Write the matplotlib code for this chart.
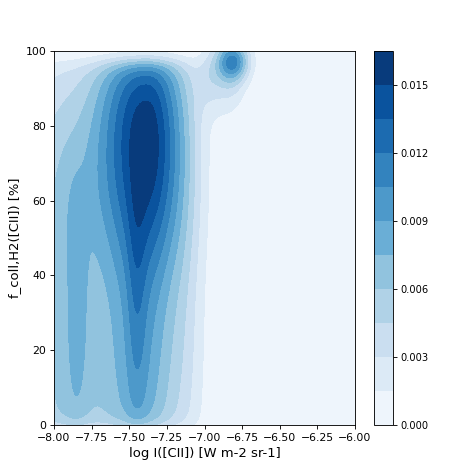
import numpy as np
import matplotlib.pyplot as plt

# Плотность как смесь гауссовых компонент (параметры)
# главный хребет: узлы по y
ridge_y = [-10, 5, 20, 35, 50, 65, 80, 95]
ridge_x = [-7.43, -7.43, -7.42, -7.41, -7.39, -7.38, -7.38, -7.39]
ridge_sxl = [0.25, 0.25, 0.25, 0.25, 0.26, 0.27, 0.27, 0.25]
ridge_sxr = [0.19, 0.19, 0.19, 0.18, 0.18, 0.18, 0.18, 0.18]
ridge_amp = [0.0038, 0.0046, 0.0050, 0.0053, 0.0070, 0.0088, 0.0092, 0.0080]

# узкая "ось" хребта в нижней части
spine_y = [-10, 5, 20, 35, 50, 65]
spine_x = [-7.45, -7.45, -7.45, -7.45, -7.45, -7.44]
spine_amp = [0.0003, 0.0005, 0.0011, 0.0014, 0.0012, 0.0004]

# левая "полка"
shelf_y = [-10, 5, 20, 35, 50, 65, 80, 95]
shelf_x = [-7.92, -7.92, -7.92, -7.92, -7.93, -7.96, -8.00, -8.00]
shelf_sxl = [0.30, 0.30, 0.30, 0.30, 0.30, 0.30, 0.30, 0.30]
shelf_sxr = [0.14, 0.14, 0.14, 0.14, 0.15, 0.17, 0.17, 0.17]
shelf_amp = [0.0029, 0.0030, 0.0031, 0.0031, 0.0030, 0.0028, 0.0020, 0.0012]

# узкая полоса внутри полки
strip_y = [10, 25, 40, 55]
strip_x = [-7.84, -7.84, -7.84, -7.85]
strip_amp = [0.0005, 0.0011, 0.0011, 0.0008]

# правый хвост
tail_x, tail_y, tail_sx, tail_sy, tail_amp = -7.12, 40, 0.09, 45, 0.0016

# пятно вверху справа, ореол и перемычка к хребту
blob_x = [-6.81, -6.84, -6.97]
blob_y = [97.3, 93.5, 93.0]
blob_sx = [0.075, 0.08, 0.06]
blob_sy = [3.6, 7.0, 6.0]
blob_amp = [0.0085, 0.0035, 0.0020]

node_sy = 11.0
levels = np.linspace(0, 0.0165, 12)
cbar_ticks = [0.0, 0.003, 0.006, 0.009, 0.012, 0.015]


def gauss(X, Y, cx, cy, sxl, sxr, sy):
    sx = np.where(X < cx, sxl, sxr)
    return np.exp(-0.5 * ((X - cx) / sx) ** 2 - 0.5 * ((Y - cy) / sy) ** 2)


x = np.linspace(-8, -6, 400)
y = np.linspace(0, 100, 400)
X, Y = np.meshgrid(x, y)

Z = np.zeros_like(X)
for i in range(len(ridge_y)):
    Z += ridge_amp[i] * gauss(X, Y, ridge_x[i], ridge_y[i], ridge_sxl[i], ridge_sxr[i], node_sy)
for i in range(len(spine_y)):
    Z += spine_amp[i] * gauss(X, Y, spine_x[i], spine_y[i], 0.045, 0.045, node_sy)
for i in range(len(shelf_y)):
    Z += shelf_amp[i] * gauss(X, Y, shelf_x[i], shelf_y[i], shelf_sxl[i], shelf_sxr[i], node_sy)
for i in range(len(strip_y)):
    Z += strip_amp[i] * gauss(X, Y, strip_x[i], strip_y[i], 0.04, 0.04, 9.0)
Z += tail_amp * gauss(X, Y, tail_x, tail_y, tail_sx, tail_sx, tail_sy)

# спад у верхней и нижней границ
Z *= 1 / (1 + np.exp((Y - 97.5) / 1.5))
for i in range(len(blob_x)):
    Z += blob_amp[i] * gauss(X, Y, blob_x[i], blob_y[i], blob_sx[i], blob_sx[i], blob_sy[i])
Z *= 1 / (1 + np.exp(-(Y + 1) / 1.5))
Z = np.clip(Z, 0, 0.01649)

fig = plt.figure(figsize=(6, 6), dpi=78.5)
ax = fig.add_axes([54 / 471, 46 / 471, 301 / 471, 374 / 471])
cax = fig.add_axes([374 / 471, 46 / 471, 19 / 471, 374 / 471])

cs = ax.contourf(X, Y, Z, levels=levels, cmap='Blues')
ax.set_xlim(-8, -6)
ax.set_ylim(0, 100)
ax.set_xticks(np.arange(-8, -5.99, 0.25))
ax.tick_params(labelsize=10)

ax.set_xlabel("log I([CII]) [W m-2 sr-1]", fontsize=12)
ax.set_ylabel("f_coll,H2([CII]) [%]", fontsize=12)

cb = fig.colorbar(cs, cax=cax, ticks=cbar_ticks, format='%.3f')
cb.ax.tick_params(labelsize=9)

fig.savefig("out.png")
